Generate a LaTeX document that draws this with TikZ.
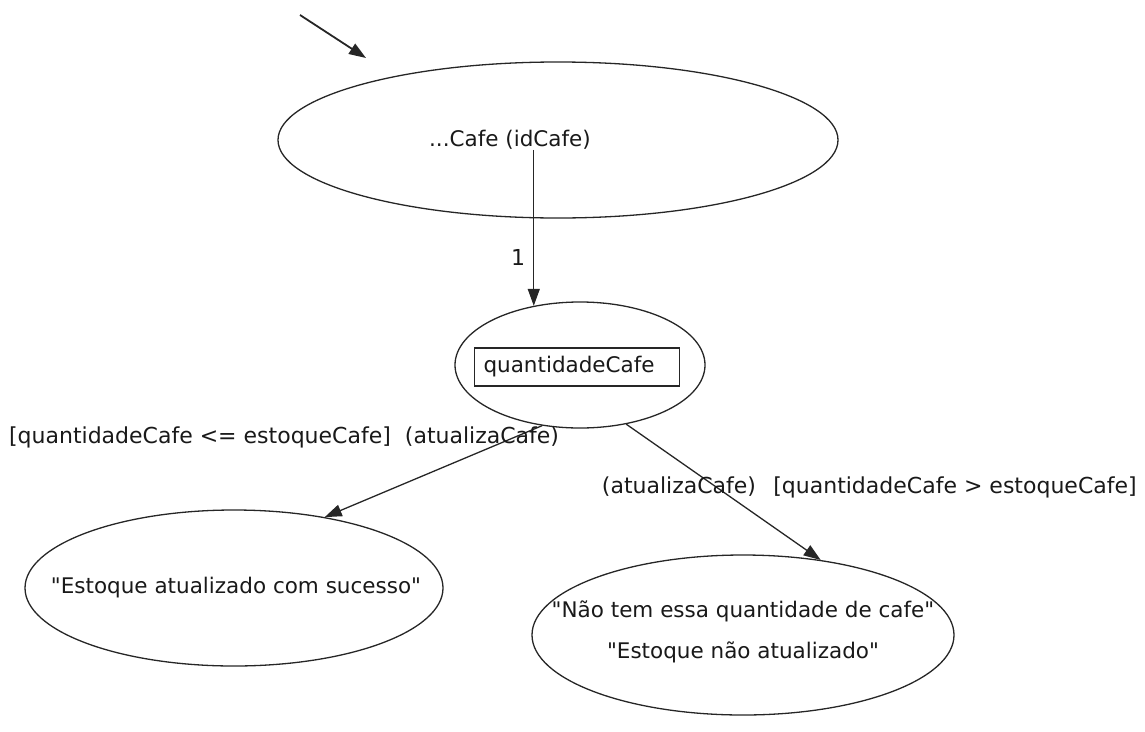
\documentclass[tikz,border=0pt]{standalone}
\usepackage{fontspec}
\setmainfont{DejaVu Sans}[Ligatures=TeXOff]
\usetikzlibrary{shapes.geometric,arrows.meta}
\begin{document}
\begin{tikzpicture}[x=1pt,y=-1pt,
  ink/.style={draw=black!85,line width=1.3pt},
  state/.style={ellipse,ink,inner sep=0pt},
  txt/.style={font=\fontsize{21.5}{41}\selectfont,text=black!90,inner sep=0pt,align=center},
  lbl/.style={font=\fontsize{22}{26}\selectfont,text=black!90,inner sep=0pt},
  flow/.style={ink,-{Triangle[length=17pt,width=12pt]}}
]
\useasboundingbox (0,0) rectangle (1145,731);

% states
\node[state,minimum width=560pt,minimum height=156pt] (e1) at (558,140) {};
\node[txt] (t1) at (510,140) {...Cafe (idCafe)};
\node[state,minimum width=250pt,minimum height=126pt] (e2) at (580,365) {};
\node[txt,draw=black!85,line width=1.2pt,text width=187pt,align=left,
      inner xsep=9pt,minimum height=38pt] (b2) at (577,367) {quantidadeCafe};
\node[state,minimum width=418pt,minimum height=156pt] (e3) at (234,588) {};
\node[txt] (t3) at (236,588) {"Estoque atualizado com sucesso"};
\node[state,minimum width=422pt,minimum height=160pt] (e4) at (743,635) {};
\node[txt] (t4) at (743,632) {"Não tem essa quantidade de cafe"\\"Estoque não atualizado"};

% entry arrow
\coordinate (s0) at (300,15);
\coordinate (s1) at (366,58);
\draw[flow,line width=1.8pt] (s0) -- (s1);

% transitions
\draw[flow] (t1.south -| e2.128) -- (e2.128);
\node[lbl] (n1) at (518,257) {1};
\draw[flow] (e2.238) -- (e3.38);
\draw[flow] (e2.-52) -- (e4.44);

% transition labels
\node[lbl] (g1) at (200,437) {[quantidadeCafe <= estoqueCafe]};
\node[lbl] (a1) at (482,437) {(atualizaCafe)};
\node[lbl] (a2) at (679,487) {(atualizaCafe)};
\node[lbl] (g2) at (955,487) {[quantidadeCafe > estoqueCafe]};
\end{tikzpicture}
\end{document}
